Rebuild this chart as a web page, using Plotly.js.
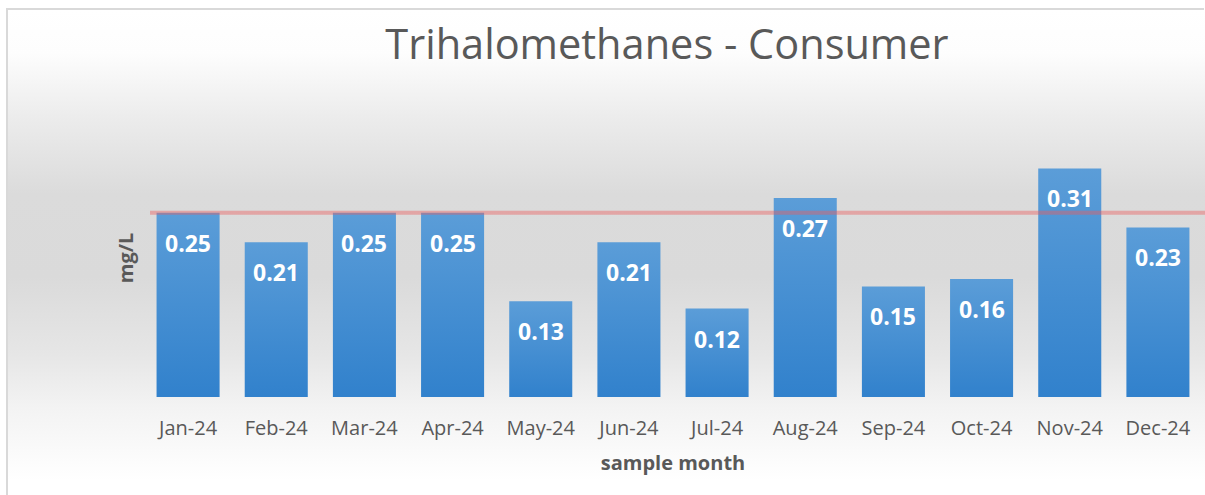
<!DOCTYPE html>
<html>
<head>
<meta charset="utf-8">
<script src="https://cdn.plot.ly/plotly-3.0.1.min.js"></script>
<style>
  html, body { margin: 0; padding: 0; background: #ffffff; overflow: hidden; width: 1205px; height: 495px; }
  #wrap { position: absolute; left: 0; top: 0; width: 1205px; height: 495px; overflow: hidden; }
  #bg { position: absolute; left: 8px; top: 10px; width: 1197px; height: 485px;
        background: linear-gradient(to bottom, #ffffff 0%, #fdfdfd 9%, #ececec 22%, #dbdbdb 38%, #dadada 55%, #e6e6e6 71%, #f3f3f3 82%, #ffffff 97%); }
  #lineTop { position: absolute; left: 6px; top: 8px; width: 1198px; height: 2px; background: #d9d9d9; }
  #lineLeft { position: absolute; left: 6px; top: 8px; width: 2px; height: 487px; background: #d9d9d9; }
  #chart { position: absolute; left: 0; top: 0; width: 1205px; height: 495px; }
</style>
</head>
<body>
<div id="wrap">
  <div id="bg"></div>
  <div id="lineTop"></div>
  <div id="lineLeft"></div>
  <div id="chart"></div>
</div>
<script>
const months = ["Jan-24","Feb-24","Mar-24","Apr-24","May-24","Jun-24","Jul-24","Aug-24","Sep-24","Oct-24","Nov-24","Dec-24"];
const thm = [0.25, 0.21, 0.25, 0.25, 0.13, 0.21, 0.12, 0.27, 0.15, 0.16, 0.31, 0.23];
const limitValue = 0.25;

const bars = {
  type: "bar",
  x: months,
  y: thm,
  marker: { color: "#4a8fd3" },
  hoverinfo: "x+y"
};

const labels = months.map((m, i) => ({
  x: m, y: thm[i], xref: "x", yref: "y",
  text: thm[i].toFixed(2),
  showarrow: false,
  yanchor: "middle",
  yshift: -30,
  font: { family: "Open Sans", size: 23, color: "#ffffff", weight: "bold" }
}));

const layout = {
  width: 1205, height: 495,
  paper_bgcolor: "rgba(0,0,0,0)",
  plot_bgcolor: "rgba(0,0,0,0)",
  margin: { l: 144, r: 3, t: 119, b: 98 },
  bargap: 0.285,
  showlegend: false,
  font: { family: "Open Sans", color: "#595959" },
  title: {
    text: "Trihalomethanes - Consumer",
    font: { family: "Open Sans", size: 41.5, color: "#595959" },
    xref: "container", x: 0.5535, xanchor: "center",
    yref: "container", y: 0.91, yanchor: "middle"
  },
  xaxis: {
    type: "category",
    showgrid: false, zeroline: false, showline: false, ticks: "",
    ticklabelstandoff: 17,
    tickfont: { family: "Open Sans", size: 20, color: "#595959" },
    title: { text: "sample month", font: { family: "Open Sans", size: 20, color: "#595959", weight: "bold" }, standoff: 15 }
  },
  yaxis: {
    range: [0, 0.377],
    showgrid: false, zeroline: false, showline: false, showticklabels: false, ticks: "",
    title: { text: "mg/L", font: { family: "Open Sans", size: 20, color: "#595959", weight: "bold" }, standoff: 4 }
  },
  shapes: [{
    type: "line", xref: "paper", yref: "y",
    x0: 0.0057, x1: 1.02, y0: limitValue, y1: limitValue,
    line: { color: "rgba(235,90,90,0.42)", width: 4 },
    layer: "above"
  }],
  annotations: labels
};

Plotly.newPlot("chart", [bars], layout, { displayModeBar: false, staticPlot: true }).then(gd => {
  const svg = gd.querySelector("svg.main-svg");
  const ns = "http://www.w3.org/2000/svg";
  let defs = svg.querySelector("defs");
  if (!defs) { defs = document.createElementNS(ns, "defs"); svg.insertBefore(defs, svg.firstChild); }
  const g = document.createElementNS(ns, "linearGradient");
  g.setAttribute("id", "barGrad");
  g.setAttribute("x1", "0"); g.setAttribute("y1", "0");
  g.setAttribute("x2", "0"); g.setAttribute("y2", "1");
  [["0%", "#5b9dd8"], ["100%", "#3181cc"]].forEach(([o, c]) => {
    const s = document.createElementNS(ns, "stop");
    s.setAttribute("offset", o); s.setAttribute("stop-color", c);
    g.appendChild(s);
  });
  defs.appendChild(g);
  gd.querySelectorAll(".bars .point path").forEach(p => { p.style.fill = "url(#barGrad)"; });
});
</script>
</body>
</html>
